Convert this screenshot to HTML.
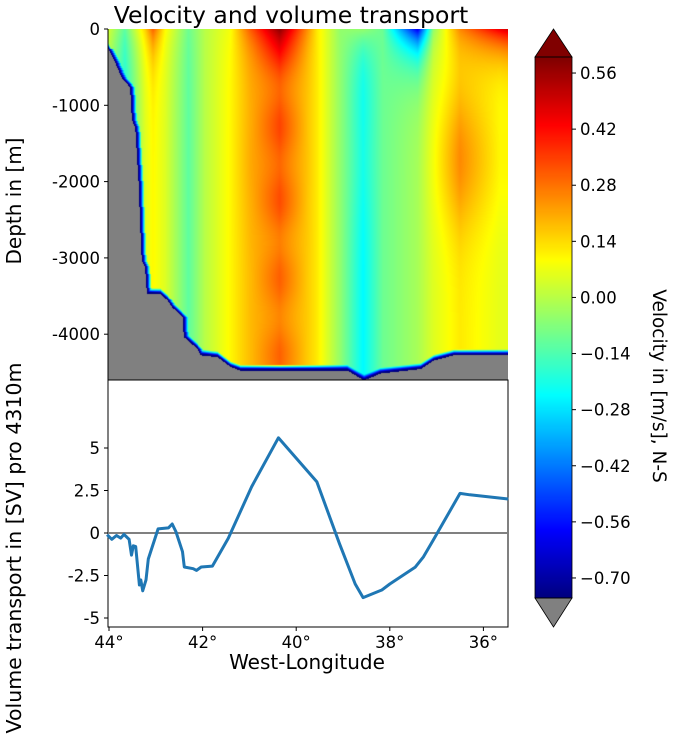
<!DOCTYPE html>
<html><head><meta charset="utf-8"><style>
body{margin:0;background:#fff;width:674px;height:737px;overflow:hidden;position:relative;font-family:"DejaVu Sans","Liberation Sans",sans-serif}
canvas{position:absolute}
svg{position:absolute;left:0;top:0;font-family:"DejaVu Sans","Liberation Sans",sans-serif}
</style></head><body>
<canvas id="heat" width="400" height="351" style="left:108px;top:29px"></canvas>
<canvas id="cbar" width="37" height="541" style="left:535px;top:57px"></canvas>
<svg id="svg" width="674" height="737"></svg>
<script>
// ---- data ----
const lonGrid   = [44.05,43.66,43.23,43.06,42.8,42.3,41.95,41.42,41.0,40.35,39.55,39.06,38.57,38.15,37.4,37.07,36.5,35.65,35.4];
const surfaceVel= [0.05,-0.12,0.15,0.3,0.1,-0.1,0.0,0.08,0.3,0.58,0.12,-0.05,-0.05,-0.1,-0.6,-0.05,0.25,0.45,0.5];
const deepVel   = [0.0,-0.2,0.05,0.1,0.05,-0.12,0.0,0.1,0.18,0.28,0.12,-0.05,-0.25,-0.1,-0.02,0.05,0.12,0.06,0.06];
const midVel    = [0.0,-0.2,0.05,0.1,0.05,-0.12,0.0,0.1,0.2,0.32,0.12,-0.05,-0.22,-0.1,-0.02,0.08,0.25,0.1,0.1];
const bathyLon  = [44.05,44.0,43.9,43.72,43.55,43.51,43.44,43.37,43.33,43.3,43.23,43.19,42.9,42.75,42.65,42.43,42.4,42.11,42.04,41.68,41.4,41.19,38.91,38.55,38.2,37.34,37.06,36.63,35.4];
const bathyDepth= [200,275,385,646,756,1190,1280,1980,2630,3030,3115,3465,3470,3550,3640,3770,4030,4185,4270,4295,4425,4470,4470,4600,4510,4450,4340,4270,4270];
const transLon  = [44.04,43.94,43.84,43.75,43.68,43.57,43.52,43.48,43.43,43.35,43.32,43.28,43.21,43.16,42.95,42.73,42.65,42.57,42.43,42.39,42.2,42.13,42.03,41.79,41.45,40.95,40.38,39.56,39.08,38.74,38.57,38.17,38.0,37.46,37.28,37.07,36.5,36.29,35.47];
const transVal  = [-0.1,-0.37,-0.15,-0.3,-0.08,-0.37,-1.3,-0.75,-0.8,-3.06,-2.76,-3.4,-2.76,-1.53,0.24,0.3,0.53,0.08,-1.1,-2.0,-2.1,-2.2,-2.0,-1.95,-0.31,2.73,5.6,3.02,-0.6,-3.0,-3.8,-3.35,-3.0,-2.02,-1.4,-0.41,2.33,2.25,2.0];
const lonTicks  = [44,42,40,38,36];
const depthTicks= [0,-1000,-2000,-3000,-4000];
const transTicks= [5,2.5,0,-2.5,-5];
const cbTicks   = [0.56,0.42,0.28,0.14,0.00,-0.14,-0.28,-0.42,-0.56,-0.70];
const vmin=-0.75, vmax=0.6;
// ---- axes ----
const xL = lon => 109 + (44 - lon)*46.8;
const yD = d => 29 - d/1000*76.3;
const yT = v => 533 - v*17;
const yC = v => 57 + (vmax - v)/(vmax-vmin)*541;
function interp(xs, ys, x){
  if(x>=xs[0]) return ys[0];
  for(let i=1;i<xs.length;i++){ if(x>=xs[i]){const t=(xs[i-1]-x)/(xs[i-1]-xs[i]);return ys[i-1]+t*(ys[i]-ys[i-1]);} }
  return ys[ys.length-1];
}
function jet(t){t=Math.max(0,Math.min(1,t));const c=v=>Math.round(255*Math.max(0,Math.min(1,v)));
  return [c(1.5-Math.abs(4*t-3)),c(1.5-Math.abs(4*t-2)),c(1.5-Math.abs(4*t-1))];}
(function(){
  const cv=document.getElementById('heat'),ctx=cv.getContext('2d'),W=400,H=351,img=ctx.createImageData(W,H);
  const bottom=[];
  for(let x=0;x<W;x++){const lon=44-(x+108.5-109)/46.8;bottom[x]=yD(-interp(bathyLon,bathyDepth,lon))-29;}
  for(let y=0;y<H;y++)for(let x=0;x<W;x++){
    const i=(y*W+x)*4;let col;
    if(y>bottom[x]){col=[128,128,128];}
    else{
      const lon=44-(x+108.5-109)/46.8, depth=y/76.3*1000;
      const w=Math.exp(-depth/350);
      const m=Math.exp(-Math.pow((depth-1700)/900,2));
      let deep=interp(lonGrid,deepVel,lon)*(1-m)+interp(lonGrid,midVel,lon)*m;
      let v=interp(lonGrid,surfaceVel,lon)*w+deep*(1-w);
      v+=0.025*Math.sin(depth/160)*Math.max(0,1-Math.abs(lon-40.35)/0.6);
      let d=bottom[x]-y;
      for(let k=1;k<6&&x-k>=0;k++){if(y>bottom[x-k]){d=Math.min(d,k);break;}}
      if(d<6){const a=d<1.5?1:Math.max(0,1-(d-1.5)/4.5);v=v*(1-a)+(-0.75)*a;}
      col=jet((v-vmin)/(vmax-vmin));
    }
    img.data[i]=col[0];img.data[i+1]=col[1];img.data[i+2]=col[2];img.data[i+3]=255;
  }
  ctx.putImageData(img,0,0);
})();
(function(){const ctx=document.getElementById('cbar').getContext('2d');
  for(let y=0;y<541;y++){const c=jet(1-y/540);ctx.fillStyle=`rgb(${c})`;ctx.fillRect(0,y,37,1);} })();
const NS='http://www.w3.org/2000/svg',svg=document.getElementById('svg');
function el(tag,attrs,text){const e=document.createElementNS(NS,tag);for(const k in attrs)e.setAttribute(k,attrs[k]);if(text!==undefined)e.textContent=text;svg.appendChild(e);return e;}
let e;
e=el('polygon',{points:'535,57 553.5,29 572,57',fill:'#800000',stroke:'#000','stroke-width':0.8});

e=el('polygon',{points:'535,598 553.5,627 572,598',fill:'#808080',stroke:'#000','stroke-width':0.8});

e=el('rect',{x:535,y:57,width:37,height:541,fill:'none',stroke:'#000','stroke-width':0.8});

cbTicks.forEach(v=>{const y=yC(v);el('line',{x1:572,x2:576,y1:y,y2:y,stroke:'#000'});
  e=el('text',{x:580,y:y+6,'font-size':16.5,fill:'#000'},v.toFixed(2).replace('-','\u2212'));
  });
e=el('line',{x1:108,x2:108,y1:29,y2:380,stroke:'#000','stroke-width':1});

depthTicks.forEach(v=>{const y=yD(v);el('line',{x1:104,x2:108,y1:y,y2:y,stroke:'#000'});
  e=el('text',{x:100,y:y+6,'font-size':16.5,'text-anchor':'end'},v===0?'0':'-'+Math.abs(v));
  });
e=el('rect',{x:108,y:380,width:400,height:247,fill:'none',stroke:'#000','stroke-width':1});

transTicks.forEach(v=>{const y=yT(v);el('line',{x1:104,x2:108,y1:y,y2:y,stroke:'#000'});
  e=el('text',{x:100,y:y+6,'font-size':16.5,'text-anchor':'end'},(v<0?'-':'')+Math.abs(v));
  });
lonTicks.forEach(v=>{const x=xL(v);el('line',{x1:x,x2:x,y1:627,y2:631,stroke:'#000'});
  e=el('text',{x:x,y:648,'font-size':16.5,'text-anchor':'middle'},v+'°');
  });
e=el('line',{x1:108,x2:508,y1:yT(0),y2:yT(0),stroke:'#808080','stroke-width':2});

e=el('polyline',{points:transLon.map((l,i)=>xL(l).toFixed(1)+','+yT(transVal[i]).toFixed(1)).join(' '),fill:'none',stroke:'#1f77b4','stroke-width':3,'stroke-linejoin':'round'});

e=el('text',{x:291,y:23,'font-size':23.5,'text-anchor':'middle'},'Velocity and volume transport');

e=el('text',{x:307,y:669,'font-size':20,'text-anchor':'middle'},'West-Longitude');

e=el('text',{x:0,y:0,'font-size':20,'text-anchor':'middle',transform:'translate(21,201) rotate(-90)'},'Depth in [m]');

e=el('text',{x:0,y:0,'font-size':20.5,'text-anchor':'middle',transform:'translate(21,548) rotate(-90)'},'Volume transport in [SV] pro 4310m');

e=el('text',{x:0,y:0,'font-size':18.5,'text-anchor':'middle',transform:'translate(653,386) rotate(90)'},'Velocity in [m/s], N-S');

</script>
</body></html>
